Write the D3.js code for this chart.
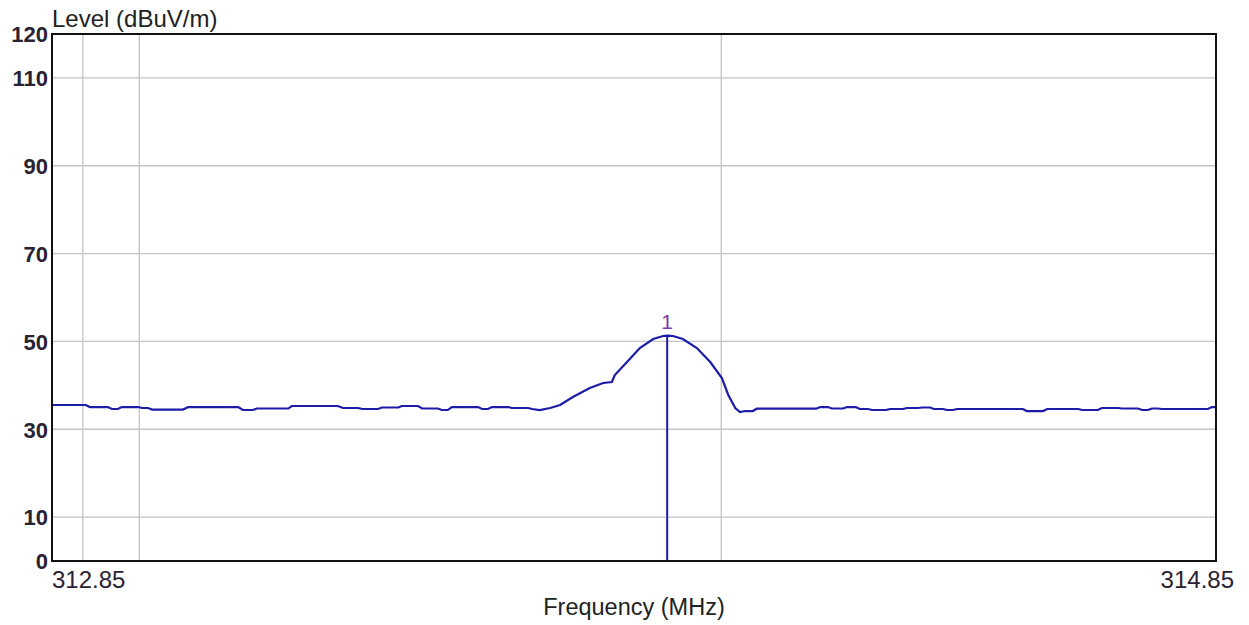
<!DOCTYPE html>
<html>
<head>
<meta charset="utf-8">
<script src="https://cdn.jsdelivr.net/npm/d3@7"></script>
<style>
  body { margin: 0; background: #fff; }
  text { font-family: "Liberation Sans", Arial, sans-serif; }
</style>
</head>
<body>
<svg width="1249" height="625"></svg>
<script>
// trace (MHz, dBuV/m)
const FREQ = [
  312.850, 312.908, 312.915, 312.946, 312.953, 312.963, 312.970, 312.998, 313.005, 313.015,
  313.022, 313.075, 313.084, 313.170, 313.178, 313.195, 313.202, 313.256, 313.262, 313.341,
  313.350, 313.376, 313.383, 313.410, 313.417, 313.445, 313.451, 313.479, 313.486, 313.513,
  313.520, 313.530, 313.537, 313.582, 313.589, 313.599, 313.606, 313.634, 313.640, 313.668,
  313.675, 313.688, 313.706, 313.723, 313.745, 313.774, 313.797, 313.812, 313.817, 313.838,
  313.860, 313.883, 313.900, 313.907, 313.917, 313.934, 313.958, 313.981, 314.001, 314.012,
  314.024, 314.032, 314.041, 314.054, 314.061, 314.163, 314.170, 314.183, 314.190, 314.209,
  314.216, 314.231, 314.238, 314.252, 314.259, 314.283, 314.290, 314.312, 314.319, 314.338,
  314.345, 314.359, 314.365, 314.381, 314.388, 314.398, 314.405, 314.518, 314.525, 314.553,
  314.560, 314.613, 314.620, 314.647, 314.654, 314.682, 314.688, 314.716, 314.723, 314.733,
  314.740, 314.750, 314.757, 314.836, 314.843, 314.850
];
const LEVEL = [
  35.52, 35.52, 35.06, 35.06, 34.61, 34.61, 35.06, 35.06, 34.84, 34.84,
  34.49, 34.49, 35.06, 35.06, 34.38, 34.38, 34.72, 34.72, 35.29, 35.29,
  34.84, 34.84, 34.61, 34.61, 34.95, 34.95, 35.29, 35.29, 34.72, 34.72,
  34.38, 34.38, 35.06, 35.06, 34.61, 34.61, 35.06, 35.06, 34.84, 34.84,
  34.61, 34.38, 34.84, 35.52, 37.34, 39.39, 40.53, 40.76, 42.35, 45.31,
  48.50, 50.55, 51.23, 51.30, 51.23, 50.55, 48.50, 45.31, 41.67, 37.80,
  34.84, 33.93, 34.15, 34.15, 34.68, 34.68, 35.06, 35.06, 34.72, 34.72,
  35.06, 35.06, 34.61, 34.61, 34.38, 34.38, 34.61, 34.61, 34.84, 34.84,
  34.95, 34.95, 34.61, 34.61, 34.38, 34.38, 34.61, 34.61, 34.15, 34.15,
  34.61, 34.61, 34.38, 34.38, 34.84, 34.84, 34.72, 34.72, 34.38, 34.38,
  34.72, 34.72, 34.61, 34.61, 35.06, 35.06
];
const MARKER_FREQ = 313.907;
const MARKER_LEVEL = 51.30;
const MARKER_LABEL = "1";

const Y_TICKS = [0, 10, 30, 50, 70, 90, 110, 120];
const Y_GRID = [10, 30, 50, 70, 90, 110];
const X_GRID = [312.903, 313.0, 314.0];
const X_LABELS = ["312.85", "314.85"];

const M = { left: 52, right: 33, top: 34, bottom: 64 };
const W = 1249, H = 625;

const svg = d3.select("svg");

const x = d3.scaleLinear().domain([312.85, 314.85]).range([M.left, W - M.right]);
const y = d3.scaleLinear().domain([0, 120]).range([H - M.bottom, M.top]);

// grid
svg.append("g")
  .selectAll("line.h").data(Y_GRID).enter().append("line")
  .attr("x1", M.left).attr("x2", W - M.right)
  .attr("y1", d => y(d)).attr("y2", d => y(d))
  .attr("stroke", "#c4c4c4").attr("stroke-width", 1.3);

svg.append("g")
  .selectAll("line.v").data(X_GRID).enter().append("line")
  .attr("x1", d => x(d)).attr("x2", d => x(d))
  .attr("y1", M.top).attr("y2", H - M.bottom)
  .attr("stroke", "#c4c4c4").attr("stroke-width", 1.3);

// trace
const pts = FREQ.map((f, i) => [f, LEVEL[i]]);
svg.append("path")
  .datum(pts)
  .attr("fill", "none")
  .attr("stroke", "#1c1ca8")
  .attr("stroke-width", 2.2)
  .attr("d", d3.line().x(d => x(d[0])).y(d => y(d[1])));

// marker
svg.append("line")
  .attr("x1", x(MARKER_FREQ)).attr("x2", x(MARKER_FREQ))
  .attr("y1", y(MARKER_LEVEL)).attr("y2", y(0))
  .attr("stroke", "#1c1ca8").attr("stroke-width", 2);

svg.append("text")
  .attr("x", x(MARKER_FREQ)).attr("y", y(MARKER_LEVEL) - 7)
  .attr("text-anchor", "middle")
  .attr("font-size", 21).attr("fill", "#7a3ca8")
  .text(MARKER_LABEL);

// frame
svg.append("rect")
  .attr("x", M.left).attr("y", M.top)
  .attr("width", W - M.left - M.right).attr("height", H - M.top - M.bottom)
  .attr("fill", "none").attr("stroke", "#111").attr("stroke-width", 2);

// y tick labels
svg.append("g")
  .selectAll("text").data(Y_TICKS).enter().append("text")
  .attr("x", 48).attr("y", d => y(d))
  .attr("dy", "0.38em")
  .attr("text-anchor", "end")
  .attr("font-size", 22).attr("font-weight", "bold")
  .attr("fill", "#2a2233")
  .text(d => d);

// x end labels
svg.append("text")
  .attr("x", x(312.85)).attr("y", 588)
  .attr("font-size", 24).attr("fill", "#2a2233")
  .text(X_LABELS[0]);
svg.append("text")
  .attr("x", 1234).attr("y", 588)
  .attr("text-anchor", "end")
  .attr("font-size", 24).attr("fill", "#2a2233")
  .text(X_LABELS[1]);

// axis titles
svg.append("text")
  .attr("x", M.left).attr("y", 27)
  .attr("font-size", 24).attr("fill", "#222")
  .text("Level (dBuV/m)");

svg.append("text")
  .attr("x", 634).attr("y", 615)
  .attr("text-anchor", "middle")
  .attr("font-size", 23.5).attr("fill", "#222")
  .text("Frequency (MHz)");
</script>
</body>
</html>
